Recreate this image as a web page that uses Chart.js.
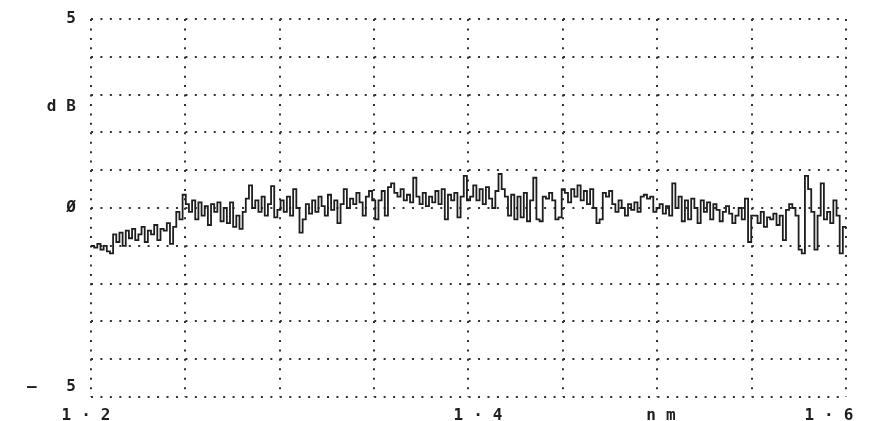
<!DOCTYPE html>
<html>
<head>
<meta charset="utf-8">
<script src="https://cdn.jsdelivr.net/npm/chart.js@4.4.1/dist/chart.umd.min.js"></script>
<style>
  html, body { margin: 0; padding: 0; background: #ffffff; }
  #wrap { width: 872px; height: 421px; position: relative; }
</style>
</head>
<body>
<div id="wrap"><canvas id="c"></canvas></div>
<script>
// ---- data ----
const wavelengthStart = 1.2;   // nm axis start
const wavelengthEnd = 1.6;     // nm axis end

// relative level in dB, one value per plotter step, left to right
const levelDb = [
  -1.0, -1.05, -0.95, -1.1, -1.0, -1.15, -1.2, -0.7, -0.9, -0.65, -1.0, -0.6, -0.8, -0.55, -0.85, -0.7, -0.5, -0.9, -0.6, -0.7, -0.45, -0.85, -0.55, -0.6, -0.4, -0.95, -0.5, -0.1, -0.3, 0.35,
  0.1, -0.1, 0.2, -0.3, 0.15, -0.2, 0.05, -0.45, 0.1, -0.1, 0.15, -0.35, 0.0, -0.4, 0.15, -0.5, -0.2, -0.55, -0.1, 0.25, 0.6, 0.0, 0.2, -0.1, 0.3, -0.2, 0.1, 0.58, -0.25, -0.05,
  0.2, -0.1, 0.3, -0.2, 0.5, 0.0, -0.65, -0.3, 0.1, -0.15, 0.2, -0.1, 0.3, 0.05, -0.2, 0.35, -0.05, 0.2, -0.4, 0.1, 0.5, 0.0, 0.25, 0.1, 0.4, 0.15, -0.2, 0.3, 0.45, 0.2,
  -0.3, 0.2, 0.45, -0.2, 0.55, 0.65, 0.4, 0.3, 0.5, 0.2, 0.35, 0.15, 0.8, 0.3, 0.1, 0.4, 0.05, 0.3, 0.15, 0.45, 0.1, 0.5, -0.3, 0.35, 0.2, 0.4, -0.25, 0.3, 0.85, 0.2,
  0.3, 0.6, 0.2, 0.5, 0.1, 0.55, 0.25, 0.0, 0.45, 0.9, 0.5, 0.3, -0.2, 0.35, -0.3, 0.3, -0.25, 0.4, -0.35, 0.2, 0.8, -0.3, -0.35, 0.3, 0.25, 0.4, 0.2, -0.3, -0.25, 0.5,
  0.4, 0.15, 0.5, 0.3, 0.6, 0.2, 0.45, 0.1, 0.5, 0.0, -0.4, -0.3, 0.4, 0.3, 0.45, 0.1, -0.1, 0.2, 0.0, -0.2, 0.1, -0.05, 0.15, -0.1, 0.3, 0.35, 0.25, 0.3, -0.1, 0.0,
  0.1, -0.15, 0.05, -0.2, 0.65, 0.0, 0.3, -0.35, 0.2, -0.3, 0.25, 0.0, -0.4, 0.2, -0.1, 0.15, -0.3, 0.1, -0.05, -0.35, -0.1, 0.05, -0.15, -0.4, -0.2, 0.0, -0.3, 0.25, -0.9, -0.2,
  -0.2, -0.4, -0.1, -0.5, -0.25, -0.3, -0.15, -0.45, -0.2, -0.85, -0.05, 0.1, 0.0, -0.2, -1.1, -1.2, 0.85, 0.5, -0.1, -1.1, -0.2, 0.65, -0.3, -0.1, -0.4, 0.2, -0.2, -1.2, -0.5, -0.55
];

// grid lines
const xGridValues = [1.2, 1.25, 1.3, 1.35, 1.4, 1.45, 1.5, 1.55, 1.6];
const yGridValues = [-5, -4, -3, -2, -1, 0, 1, 2, 3, 4, 5];

// tick labels
const xLabelValues = [1.2, 1.4077, 1.5046, 1.5936];
const xLabelTexts  = ['1·2', '1·4', 'nm', '1·6'];
const yLabelValues = [5, 2.67, 0, -4.74];
const yLabelTexts  = ['5', 'dB', 'Ø', '— 5'];

// ---- build ----
const stepCount = levelDb.length;
const points = levelDb.map((v, i) => ({
  x: wavelengthStart + (wavelengthEnd - wavelengthStart) * i / (stepCount - 1),
  y: v
}));

const DOT = '#333333';
const INK = '#1e1e1e';
const near = (a, b) => Math.abs(a - b) < 1e-6;
const isIn = (arr, v) => arr.some(a => near(a, v));

const spacingPlugin = {
  id: 'plotterSpacing',
  beforeDraw(chart) { chart.ctx.letterSpacing = '10px'; }
};

const labelFont = { family: 'DejaVu Sans Mono', size: 16, weight: 'bold' };

new Chart(document.getElementById('c'), {
  type: 'line',
  data: {
    datasets: [{
      data: points,
      borderColor: INK,
      borderWidth: 1.8,
      pointRadius: 0,
      stepped: true,
      fill: false,
      tension: 0
    }]
  },
  options: {
    responsive: true,
    maintainAspectRatio: false,
    animation: false,
    events: [],
    layout: { padding: { left: 0, right: 26, top: 19, bottom: 0 } },
    plugins: { legend: { display: false }, tooltip: { enabled: false }, title: { display: false } },
    scales: {
      x: {
        type: 'linear',
        min: wavelengthStart,
        max: wavelengthEnd,
        afterBuildTicks(scale) {
          const vals = xGridValues.concat(xLabelValues.filter(v => !isIn(xGridValues, v)));
          vals.sort((a, b) => a - b);
          scale.ticks = vals.map(v => ({ value: v }));
        },
        afterFit(scale) { scale.height = 24; },
        border: { display: false, dash: [2, 7.44], dashOffset: 0 },
        grid: {
          drawTicks: false,
          lineWidth: 2,
          color: (ctx) => (ctx.tick && isIn(xGridValues, ctx.tick.value)) ? DOT : 'rgba(0,0,0,0)'
        },
        ticks: {
          autoSkip: false,
          maxRotation: 0,
          minRotation: 0,
          padding: 9,
          color: INK,
          font: labelFont,
          callback(value) {
            const k = xLabelValues.findIndex(v => near(v, value));
            return k >= 0 ? xLabelTexts[k] : '';
          }
        }
      },
      y: {
        type: 'linear',
        min: -5,
        max: 5,
        afterBuildTicks(scale) {
          const vals = yGridValues.concat(yLabelValues.filter(v => !isIn(yGridValues, v)));
          vals.sort((a, b) => a - b);
          scale.ticks = vals.map(v => ({ value: v }));
        },
        afterFit(scale) { scale.width = 91; },
        border: { display: false, dash: [2, 7.44], dashOffset: 0 },
        grid: {
          drawTicks: false,
          lineWidth: 2,
          color: (ctx) => (ctx.tick && isIn(yGridValues, ctx.tick.value)) ? DOT : 'rgba(0,0,0,0)'
        },
        ticks: {
          autoSkip: false,
          padding: 5,
          color: INK,
          font: labelFont,
          callback(value) {
            const k = yLabelValues.findIndex(v => near(v, value));
            return k >= 0 ? yLabelTexts[k] : '';
          }
        }
      }
    }
  },
  plugins: [spacingPlugin]
});
</script>
</body>
</html>
